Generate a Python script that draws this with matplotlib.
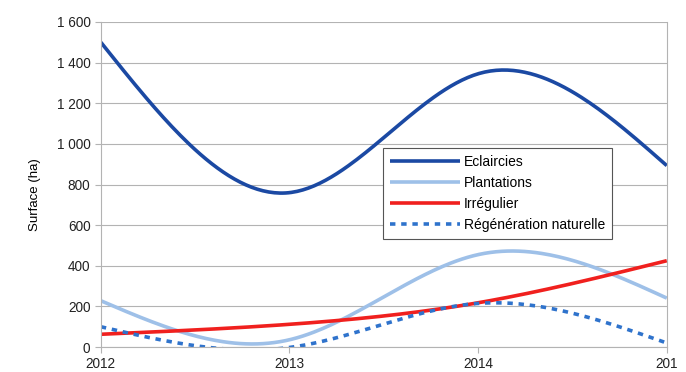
import matplotlib.pyplot as plt
import matplotlib.ticker as mticker
import numpy as np

plt.rcParams['font.family'] = ['Liberation Sans', 'DejaVu Sans']

# Data (yearly values, ha)
years = [2012, 2013, 2014, 2015]
eclaircies = [1500, 760, 1345, 893]
plantations = [228, 36, 455, 241]
irregulier = [63, 112, 218, 425]
regeneration = [100, -2, 215, 20]

labels = ['Eclaircies', 'Plantations', 'Irrégulier', 'Régénération naturelle']
colors = ['#1b49a3', '#9ec0e8', '#f0201e', '#2f73cc']
styles = ['-', '-', '-', (0, (1.5, 1.6))]


def smooth(x, y, n=200):
    # natural cubic spline, like the smoothed lines of the office chart
    x = np.asarray(x, float)
    y = np.asarray(y, float)
    k = len(x)
    h = np.diff(x)
    A = np.zeros((k, k))
    b = np.zeros(k)
    A[0, 0] = 1
    A[-1, -1] = 1
    for i in range(1, k - 1):
        A[i, i - 1] = h[i - 1]
        A[i, i] = 2 * (h[i - 1] + h[i])
        A[i, i + 1] = h[i]
        b[i] = 6 * ((y[i + 1] - y[i]) / h[i] - (y[i] - y[i - 1]) / h[i - 1])
    M = np.linalg.solve(A, b)
    xs = np.linspace(x[0], x[-1], n)
    j = np.clip(np.searchsorted(x, xs) - 1, 0, k - 2)
    t1 = x[j + 1] - xs
    t0 = xs - x[j]
    hj = h[j]
    ys = (M[j] * t1 ** 3 + M[j + 1] * t0 ** 3) / (6 * hj) \
        + (y[j] / hj - M[j] * hj / 6) * t1 + (y[j + 1] / hj - M[j + 1] * hj / 6) * t0
    return xs, ys


fig = plt.figure(figsize=(6.86, 3.72), dpi=100)
ax = fig.add_axes([0.147, 0.067, 0.825, 0.874])

for vals, lab, col, ls in zip([eclaircies, plantations, irregulier, regeneration], labels, colors, styles):
    xs, ys = smooth(years, vals)
    ax.plot(xs, ys, color=col, lw=2.6, linestyle=ls, label=lab, solid_capstyle='butt', dash_capstyle='butt')

ax.set_xlim(2012, 2015)
ax.set_ylim(0, 1600)
ax.set_xticks(years)
ax.set_xticklabels(['2012', '2013', '2014', '201'])
ax.yaxis.set_major_locator(mticker.MultipleLocator(200))
ax.yaxis.set_major_formatter(mticker.FuncFormatter(lambda v, p: '{:,.0f}'.format(v).replace(',', ' ')))
ax.grid(axis='y', color='#b3b3b3', lw=0.8)
ax.set_axisbelow(True)
for s in ['left', 'right', 'bottom']:
    ax.spines[s].set_color('#b3b3b3')
ax.spines['top'].set_visible(False)
ax.tick_params(colors='#b3b3b3', labelcolor='#222222', labelsize=9.8, length=4)
ax.set_ylabel('Surface (ha)', fontsize=9.5)
ax.yaxis.set_label_coords(-0.106, 0.47)

leg = ax.legend(loc='upper left', bbox_to_anchor=(0.499, 0.612), fontsize=10, handlelength=5.0,
                fancybox=False, framealpha=1, edgecolor='#555555', borderpad=0.5, labelspacing=0.5,
                handletextpad=0.3, borderaxespad=0)
leg.get_frame().set_linewidth(0.8)

plt.savefig('out.png', dpi=100)
